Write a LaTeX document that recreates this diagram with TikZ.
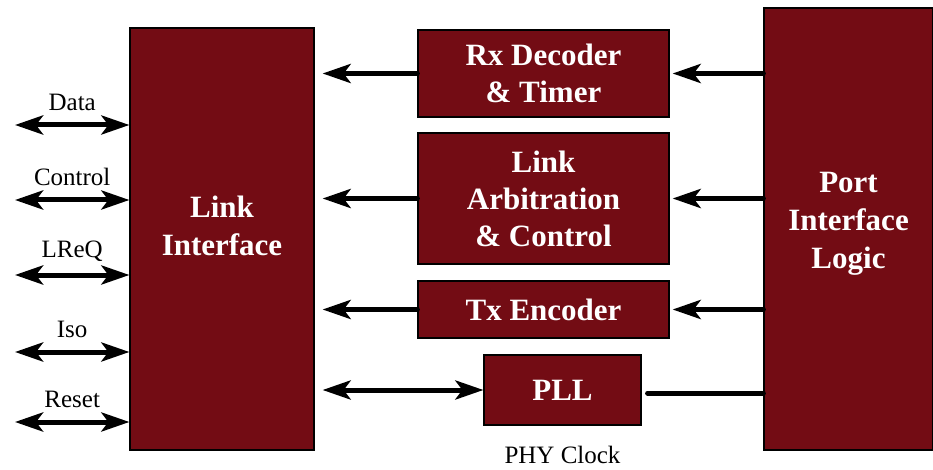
\documentclass[tikz,border=0pt]{standalone}
\usepackage{fontspec}
\setmainfont{Liberation Serif}
\usetikzlibrary{positioning, arrows.meta}
\definecolor{boxred}{RGB}{115,12,20}

\begin{document}
\begin{tikzpicture}[x=1pt,y=-1pt,>={Stealth[length=28pt,width=19pt,inset=7pt]}]
  \useasboundingbox (0,0) rectangle (933,470);
  \tikzset{
    blk/.style={draw=black,line width=1.2pt,fill=boxred,text=white,
      font=\fontsize{31}{37}\selectfont\bfseries,align=center,inner sep=0pt},
    blktxt/.style={text=white,font=\fontsize{31}{38}\selectfont\bfseries,align=center},
    sig/.style={line width=5pt},
    lbl/.style={font=\fontsize{25}{28}\selectfont}
  }
  % blocks
  \node[blk,minimum width=184,minimum height=422,
        label={[blktxt,yshift=13pt]center:{Link\\Interface}}] (linkif) at (222,239) {};
  \node[blk,minimum width=251,minimum height=87] (rxdec) at (543.5,73.5) {Rx Decoder\\\& Timer};
  \node[blk,minimum width=251,minimum height=131] (arb) at (543.5,198.5) {Link\\Arbitration\\\& Control};
  \node[blk,minimum width=251,minimum height=57] (txenc) at (543.5,309.5) {Tx Encoder};
  \node[blk,minimum width=157,minimum height=70] (pll) at (562.5,390) {PLL};
  \node[blk,minimum width=169,minimum height=442,
        label={[blktxt,yshift=5pt]center:{Port\\Interface\\Logic}}] (port) at (848.5,229) {};
  % external signals
  \foreach \name/\yy in {Data/125,Control/200,LReQ/275,Iso/352,Reset/422}{
    \coordinate (ext\name) at (15,\yy);
    \draw[sig,<->] (ext\name) -- (linkif.west |- ext\name)
      node[lbl,midway,above=8pt] {\name};
  }
  % internal arrows
  \draw[sig,->,line cap=round,shorten >=8pt] (rxdec.west) -- (linkif.east |- rxdec.west);
  \draw[sig,->,line cap=round,shorten >=8pt] (arb.west) -- (linkif.east |- arb.west);
  \draw[sig,->,line cap=round,shorten >=8pt] (txenc.west) -- (linkif.east |- txenc.west);
  \draw[sig,<->,shorten <=8pt] (linkif.east |- pll.west) -- (pll.west);
  \draw[sig,->,line cap=round,shorten >=3pt] (port.west |- rxdec.east) -- (rxdec.east);
  \draw[sig,->,line cap=round,shorten >=3pt] (port.west |- arb.east) -- (arb.east);
  \draw[sig,->,line cap=round,shorten >=3pt] (port.west |- txenc.east) -- (txenc.east);
  \coordinate (pllout) at ([yshift=-3pt]pll.east);
  \draw[sig,line cap=round,shorten <=6pt] (pllout) -- (port.west |- pllout);
  \node[lbl,below=17pt of pll] (phyclk) {PHY Clock};
\end{tikzpicture}
\end{document}
